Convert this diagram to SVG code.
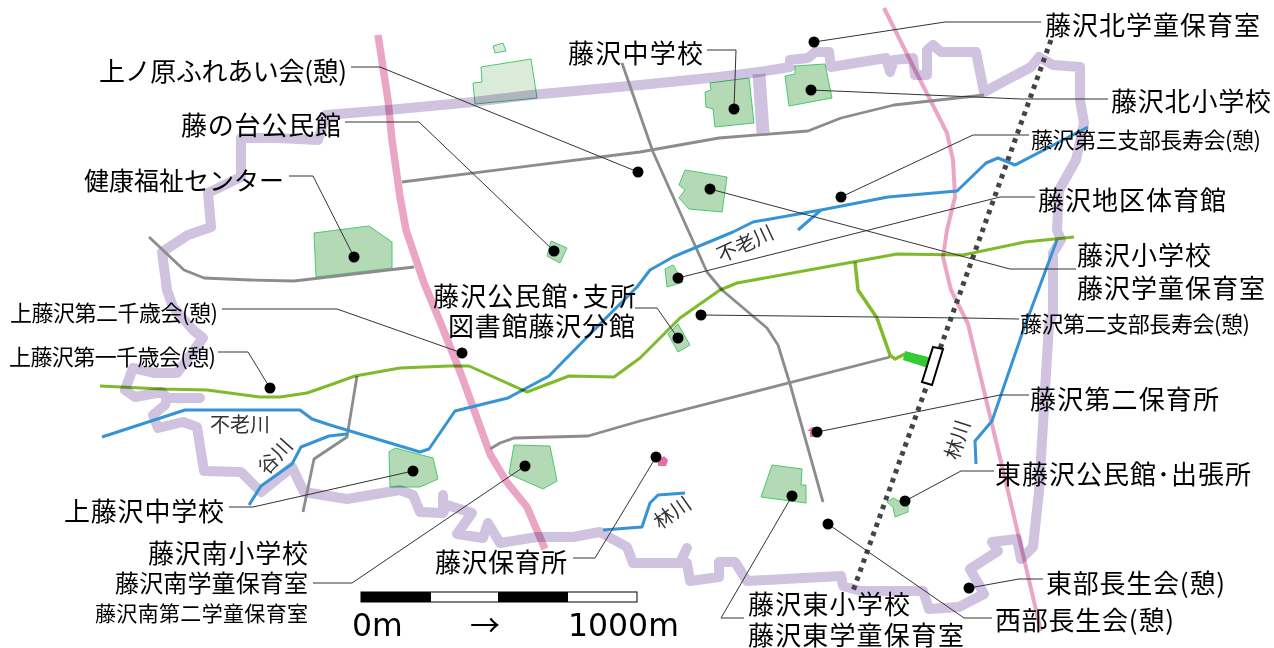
<svg xmlns="http://www.w3.org/2000/svg" width="1274" height="648" viewBox="0 0 1274 648">
<style>
text{font-family:"Noto Sans CJK JP","Noto Sans",sans-serif;fill:#000}
.l{font-size:26px}.m{font-size:22px}
.r{font-size:20px;fill:#333}
.n{font-family:"DejaVu Sans",sans-serif;font-size:31.5px}
.b{fill:none;stroke:#cfc3e0;stroke-width:10;stroke-linejoin:round;stroke-linecap:round;mix-blend-mode:multiply}
.p{fill:none;stroke:#eba6c6;stroke-linejoin:round;mix-blend-mode:multiply}
.g{fill:none;stroke:#8c8c8c;stroke-width:2.8;stroke-linejoin:round}
.w{fill:none;stroke:#3593d6;stroke-width:3;stroke-linejoin:round}
.v{fill:none;stroke:#7fba2a;stroke-width:3;stroke-linejoin:round;mix-blend-mode:multiply}
.f{fill:#b3d9b5;stroke:#4cc870;stroke-width:1}
.u{fill:#daebda}
.c{fill:none;stroke:#333;stroke-width:1}
.d{fill:#000}
.h{fill:#e86aa6}
</style>
<rect width="1274" height="648" fill="#fff"/>
<g id="map">
<g id="facilities">
<path class="f u" d="M493 46L503 43L506 51L495 53Z"/>
<path class="f u" d="M481 67L531 59L537 98L475 104L473 83L482 82Z"/>
<path class="f" d="M314 233L369 226L392 242V268L316 277Z"/>
<path class="f" d="M551 241L567 248L560 263L547 256Z"/>
<path class="f" d="M710 83L749 78L754 123L715 127L713 109L706 107L705 92L711 90Z"/>
<path class="f" d="M795 66L825 64L832 98L789 106L785 76L795 74Z"/>
<path class="f" d="M685 170L727 177L722 212L689 209L679 198L685 190L679 185Z"/>
<path class="f" d="M665 269L673 265L683 282L667 287Z"/>
<path class="f" d="M678 324L690 345L678 352L668 334Z"/>
<path class="f" d="M395 448L433 458L438 479L420 487L390 487L389 452Z"/>
<path class="f" d="M514 445L550 446L557 481L543 489L509 474Z"/>
<path class="f" d="M772 465L802 469L801 485L806 485L806 503L761 497Z"/>
<path class="f" d="M893 498L908 506V512L895 517L893 507L887 502Z"/>
<path class="h" d="M807 431L812 427H816V437H810V431Z"/>
<path class="h" d="M658 460L664 456L668 460L666 466H658Z"/>
</g>
<path id="boundary" class="b" d="M640 85L531 95L473 102L388 110L326 115L318 140L278 138L241 138L241 177L208 193L211 227L188 235L162 252L167 290L173 307L193 330L203 338L177 373L155 373L133 368L125 390L135 397L162 392L167 398H200M167 398L165 405L153 415L158 428L183 422L197 427L204 471L241 472L261 492L292 467L304 492L347 499L400 490L413 495L420 512L443 513V495M443 513L447 505L472 513L457 534L483 538L488 523L500 543L537 537L573 537L600 532L627 547L633 563L680 563L687 548M687 563L690 581L719 577V562H735L747 581L841 576L843 586L861 591H923L929 609L959 607L984 594L970 569L998 551L992 542L1017 539L1021 559L1033 547L1039 491L1049 324L1053 313V253L1061 240L1057 230L1059 190L1076 160L1084 123L1080 100V67L1053 65L1039 57L1031 67L984 92L976 52H941L933 45L927 50V75H915L913 58L894 60L890 72L886 58L831 67L829 52H815L808 58L790 60V67L759 72L719 77L640 85"/>
<path class="b" style="stroke-width:13;stroke-linecap:butt" d="M759 74L763 133"/>
<path class="p" stroke-width="7.5" d="M378 35L388 100L392 140L400 197L406 230L424 283L441 324L461 374L490 454L506 481L527 507L545 549"/>
<path class="p" stroke-width="4" d="M884 8L915 70L947 133L953 160L955 197L947 230L943 257L951 290L968 324L984 391L1008 491L1041 631"/>
<g id="roads">
<path class="g" d="M402 182L640 152L719 138L808 131L841 118L894 105L984 95"/>
<path class="g" d="M149 237L184 270L204 278L250 280L294 281L414 267"/>
<path class="g" d="M622 63L653 152L688 230L707 272L722 290L767 328L778 345L790 384L823 502"/>
<path class="g" d="M490 449L500 443L514 438L588 436L640 421L890 357"/>
<path class="g" d="M357 376L347 437L314 459L303 512"/>
</g>
<g id="rivers">
<path class="w" d="M102 437L185 410H300L312 419L330 425L420 452L429 449L455 411L508 398L549 376L600 324L637 287L650 270L673 257L733 232L753 222L821 210L888 197L957 191L986 163L998 158L1015 165L1088 127"/>
<path class="w" d="M798 230L821 210"/>
<path class="w" d="M249 505L261 486L292 464L301 447L329 436L347 434"/>
<path class="w" d="M603 530L642 527L650 503L658 495L685 493"/>
<path class="w" d="M1057 240L1023 331L992 421L975 441L976 464"/>
<path class="v" d="M100 386L162 389L207 390L260 397L280 397L307 393L330 385L355 376L400 368L449 366H469L527 392L569 376L614 377L640 358L680 318L720 290L737 283L853 262L897 254L963 255L1025 242L1074 237"/>
<path class="v" d="M855 262L858 290L877 318L890 355L895 359L905 354" style="stroke-width:3.5"/>
<path d="M905 351L932 358L928 368L903 360Z" fill="#33cc33"/>
</g>
<path id="railway" d="M1051 40L853 591" fill="none" stroke="#444" stroke-width="5" stroke-dasharray="4.5 5"/>
<path id="station" d="M933 347L943 349L932 385L922 382Z" fill="#fff" stroke="#000" stroke-width="2"/>
<text class="r" transform="translate(721 263) rotate(-25)">不老川</text>
<text class="r" transform="translate(210 432)">不老川</text>
<text class="r" transform="translate(267 476) rotate(-48)">谷川</text>
<text class="r" transform="translate(660 530) rotate(-35)">林川</text>
<text class="r" transform="translate(958 461) rotate(-72)">林川</text>
</g>
<g id="connectors">
<path class="c" d="M351 67H380L638 172"/>
<path class="c" d="M345 122H419L554 251"/>
<path class="c" d="M289 176H313L354 257"/>
<path class="c" d="M222 309H337L462 353"/>
<path class="c" d="M218 352H248L270 388"/>
<path class="c" d="M229 507H253L413 471"/>
<path class="c" d="M313 583H352L525 466"/>
<path class="c" d="M573 558H595L656 457"/>
<path class="c" d="M635 308H657L678 338"/>
<path class="c" d="M707 50H736L734 109"/>
<path class="c" d="M1041 22H945L814 42"/>
<path class="c" d="M1108 99H1021L811 90"/>
<path class="c" d="M1029 135H973L841 197"/>
<path class="c" d="M1035 197H1000L678 278"/>
<path class="c" d="M1076 269H1010L710 189"/>
<path class="c" d="M1019 319L964 318L701 315"/>
<path class="c" d="M1029 395H1000L817 432"/>
<path class="c" d="M994 471H961L905 501"/>
<path class="c" d="M1043 579H1019L969 588"/>
<path class="c" d="M992 618H964L828 524"/>
<path class="c" d="M744 618H721L792 496"/>
</g>
<g id="n-uenohara"><circle class="d" cx="638" cy="172" r="5.5"/><text class="l" x="99" y="81" textLength="248">上ノ原ふれあい会(憩)</text></g>
<g id="n-fujinodai"><circle class="d" cx="554" cy="251" r="5.5"/><text class="l" x="181" y="135" textLength="160">藤の台公民館</text></g>
<g id="n-kenko"><circle class="d" cx="354" cy="257" r="5.5"/><text class="l" style="font-size:25px" x="84" y="190" textLength="200">健康福祉センター</text></g>
<g id="n-kami2"><circle class="d" cx="462" cy="353" r="5.5"/><text class="m" x="10" y="321" textLength="208">上藤沢第二千歳会(憩)</text></g>
<g id="n-kami1"><circle class="d" cx="270" cy="388" r="5.5"/><text class="m" x="9" y="365" textLength="207">上藤沢第一千歳会(憩)</text></g>
<g id="n-kamichu"><circle class="d" cx="413" cy="471" r="5.5"/><text class="l" x="64" y="521" textLength="160">上藤沢中学校</text></g>
<g id="n-minami"><circle class="d" cx="525" cy="466" r="5.5"/><text class="l" x="148" y="563" textLength="160">藤沢南小学校</text><text style="font-size:24px" x="115" y="592" textLength="193">藤沢南学童保育室</text><text class="m" style="font-size:21px" x="95" y="621" textLength="213">藤沢南第二学童保育室</text></g>
<g id="n-hoiku"><circle class="d" cx="656" cy="457" r="5.5"/><text class="l" x="435" y="572" textLength="132">藤沢保育所</text></g>
<g id="n-kominkan"><circle class="d" cx="678" cy="338" r="5.5"/><text class="l" x="433" y="306" textLength="203">藤沢公民館･支所</text><text class="l" x="448" y="336" textLength="187">図書館藤沢分館</text></g>
<g id="n-chu"><circle class="d" cx="734" cy="109" r="5.5"/><text class="l" x="568" y="63" textLength="135">藤沢中学校</text></g>
<g id="n-kitagakudo"><circle class="d" cx="814" cy="42" r="5.5"/><text class="l" x="1045" y="35" textLength="215">藤沢北学童保育室</text></g>
<g id="n-kitasho"><circle class="d" cx="811" cy="90" r="5.5"/><text class="l" x="1111" y="111" textLength="160">藤沢北小学校</text></g>
<g id="n-dai3"><circle class="d" cx="841" cy="197" r="5.5"/><text class="m" x="1031" y="148" textLength="230">藤沢第三支部長寿会(憩)</text></g>
<g id="n-taiiku"><circle class="d" cx="678" cy="278" r="5.5"/><text class="l" x="1038" y="210" textLength="188">藤沢地区体育館</text></g>
<g id="n-sho"><circle class="d" cx="710" cy="189" r="5.5"/><text class="l" x="1077" y="265" textLength="134">藤沢小学校</text><text class="l" x="1077" y="298" textLength="188">藤沢学童保育室</text></g>
<g id="n-dai2"><circle class="d" cx="701" cy="315" r="5.5"/><text class="m" x="1020" y="332" textLength="230">藤沢第二支部長寿会(憩)</text></g>
<g id="n-hoiku2"><circle class="d" cx="817" cy="432" r="5.5"/><text class="l" x="1030" y="409" textLength="189">藤沢第二保育所</text></g>
<g id="n-higashikominkan"><circle class="d" cx="905" cy="501" r="5.5"/><text class="l" x="995" y="484" textLength="256">東藤沢公民館･出張所</text></g>
<g id="n-tobu"><circle class="d" cx="969" cy="588" r="5.5"/><text class="l" x="1046" y="593" textLength="179">東部長生会(憩)</text></g>
<g id="n-seibu"><circle class="d" cx="828" cy="524" r="5.5"/><text class="l" x="995" y="630" textLength="179">西部長生会(憩)</text></g>
<g id="n-higashi"><circle class="d" cx="792" cy="496" r="5.5"/><text class="l" x="748" y="614" textLength="162">藤沢東小学校</text><text class="l" x="748" y="645" textLength="216">藤沢東学童保育室</text></g>
<g id="scale">
<rect x="361" y="592" width="276" height="10" fill="#fff" stroke="#000"/>
<rect x="361" y="592" width="70" height="10" fill="#000"/>
<rect x="498" y="592" width="70" height="10" fill="#000"/>
<text class="n" x="352" y="636">0m</text>
<text x="470" y="636" style="font-size:30px">→</text>
<text class="n" x="568" y="636">1000m</text>
</g>
</svg>
